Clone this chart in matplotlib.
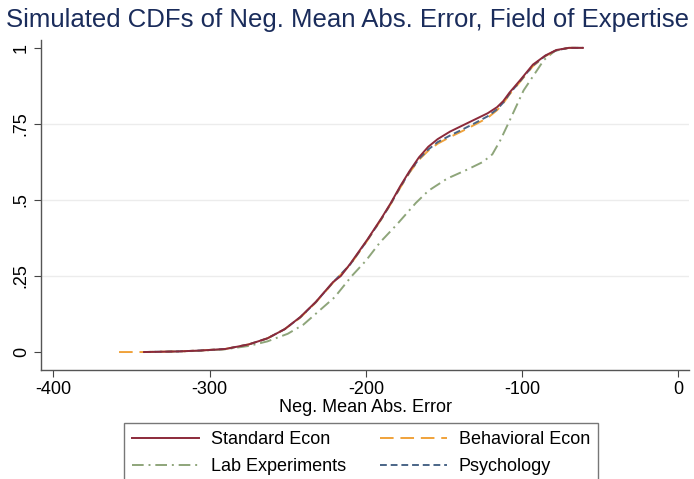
import numpy as np
import matplotlib.pyplot as plt
from matplotlib.lines import Line2D

plt.rcParams['font.family'] = ['Liberation Sans', 'DejaVu Sans']

# CDF points (neg. mean abs. error, cumulative share)
std_x = [-342, -320, -306, -290, -275, -263, -252, -242, -232, -221, -216, -210, -199,
         -190, -184, -178, -172, -166, -160, -154, -146, -138, -130, -122, -116, -112,
         -108, -101, -93, -85, -78, -70, -61]
std_y = [0.0, 0.002, 0.005, 0.01, 0.025, 0.045, 0.075, 0.115, 0.165, 0.23, 0.25, 0.29, 0.37,
         0.44, 0.49, 0.545, 0.595, 0.64, 0.675, 0.70, 0.725, 0.745, 0.765, 0.785, 0.805, 0.825,
         0.853, 0.895, 0.945, 0.975, 0.993, 1.0, 1.0]

beh_x = [-358, -342, -320, -306, -290, -275, -263, -252, -242, -232, -221, -210, -199,
         -190, -184, -178, -172, -166, -160, -154, -146, -138, -130, -122, -116, -112,
         -108, -101, -93, -85, -78, -70, -61]
beh_y = [0.0, 0.0, 0.002, 0.005, 0.01, 0.025, 0.045, 0.075, 0.113, 0.163, 0.228, 0.287, 0.367,
         0.437, 0.487, 0.54, 0.59, 0.632, 0.662, 0.685, 0.707, 0.727, 0.748, 0.77, 0.795, 0.818,
         0.847, 0.89, 0.94, 0.973, 0.992, 1.0, 1.0]

lab_x = [-342, -320, -306, -290, -275, -263, -250, -240, -230, -220, -209, -200, -191,
         -180, -168, -160, -148, -135, -125, -119, -114, -108, -99, -86, -79, -70, -61]
lab_y = [0.0, 0.002, 0.004, 0.009, 0.02, 0.035, 0.06, 0.09, 0.135, 0.18, 0.25, 0.30, 0.36,
         0.42, 0.49, 0.53, 0.57, 0.60, 0.625, 0.65, 0.695, 0.76, 0.86, 0.96, 0.99, 1.0, 1.0]

psy_x = [-342, -320, -306, -290, -275, -263, -252, -242, -232, -221, -210, -199,
         -190, -184, -178, -172, -166, -160, -154, -146, -138, -130, -122, -116, -112,
         -108, -101, -93, -85, -78, -70, -61]
psy_y = [0.0, 0.002, 0.005, 0.01, 0.025, 0.045, 0.075, 0.114, 0.164, 0.229, 0.288, 0.368,
         0.438, 0.488, 0.542, 0.592, 0.635, 0.666, 0.69, 0.712, 0.732, 0.753, 0.775, 0.798, 0.82,
         0.849, 0.892, 0.942, 0.974, 0.992, 1.0, 1.0]

labels = ['Standard Econ', 'Lab Experiments', 'Behavioral Econ', 'Psychology']
colors = ['#8c2a3a', '#f0a23a', '#8ea57a', '#4a6587']

fig = plt.figure(figsize=(6.94, 4.79), dpi=100)
ax = fig.add_axes([0.059, 0.2276, 0.934, 0.689])

ax.plot(lab_x, lab_y, color=colors[2], lw=1.4, dashes=(6, 2.5, 1, 2.5))
ax.plot(beh_x, beh_y, color=colors[1], lw=1.4, dashes=(7, 3.5))
ax.plot(psy_x, psy_y, color=colors[3], lw=1.4, dashes=(3.5, 2))
ax.plot(std_x, std_y, color=colors[0], lw=1.4)

ax.set_xlim(-408, 7)
ax.set_ylim(-0.059, 1.026)
ax.set_xticks([-400, -300, -200, -100, 0])
ax.set_xticklabels(['-400', '-300', '-200', '-100', '0'])
ax.set_yticks([0, 0.25, 0.5, 0.75, 1])
ax.set_yticklabels(['0', '.25', '.5', '.75', '1'], rotation=90, va='center')
ax.tick_params(labelsize=13, color='#444444', length=5, pad=3)

for g in [0.25, 0.5, 0.75]:
    ax.axhline(g, color='#ececec', lw=1, zorder=0)

for s in ['top', 'right']:
    ax.spines[s].set_visible(False)
for s in ['left', 'bottom']:
    ax.spines[s].set_color('#555555')
    ax.spines[s].set_linewidth(1)

ax.set_xlabel('Neg. Mean Abs. Error', fontsize=13, labelpad=1)
fig.text(0.5, 1 - 20 / 479, 'Simulated CDFs of Neg. Mean Abs. Error, Field of Expertise',
         ha='center', va='center', fontsize=18.5, color='#1a2c5b')

handles = [
    Line2D([], [], color=colors[0], lw=1.4),
    Line2D([], [], color=colors[2], lw=1.4, dashes=(6, 2.5, 1, 2.5)),
    Line2D([], [], color=colors[1], lw=1.4, dashes=(7, 3.5)),
    Line2D([], [], color=colors[3], lw=1.4, dashes=(3.5, 2)),
]
leg = fig.legend(handles, labels, ncol=2, loc='upper left',
                 bbox_to_anchor=(124 / 694, 1 - 423 / 479), fontsize=13, frameon=True,
                 fancybox=False, edgecolor='#555555', handlelength=3.7,
                 columnspacing=1.9, borderpad=0.45, labelspacing=0.55,
                 handletextpad=0.65, borderaxespad=0)
leg.get_frame().set_linewidth(1)

fig.savefig('out.png', dpi=100)
